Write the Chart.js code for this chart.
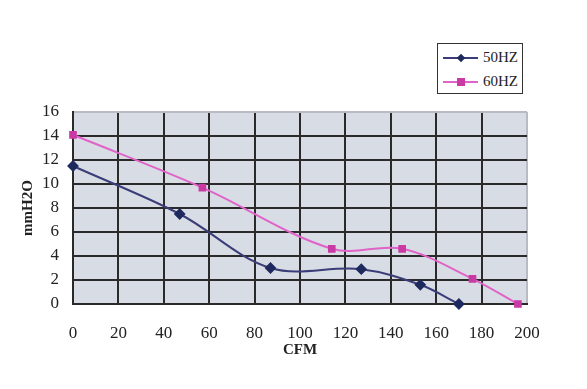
<!DOCTYPE html>
<html>
<head>
<meta charset="utf-8">
<script src="https://cdn.jsdelivr.net/npm/chart.js@4/dist/chart.umd.min.js"></script>
<style>
  html, body { margin: 0; padding: 0; background: #fff; }
  #wrap { position: relative; width: 587px; height: 389px; }
  #legend { position: absolute; left: 437px; top: 43px; width: 84px; height: 49px;
    border: 1.5px solid #333; background: #fff; font-family: "Liberation Serif", serif; font-size: 15px; color: #222; }
  .item { position: absolute; left: 5px; height: 16px; width: 80px; }
  .ln { position: absolute; left: 0; top: 7px; width: 35px; height: 1.5px; }
  .mk { position: absolute; }
  .tx { position: absolute; left: 40px; top: -1px; line-height: 16px; }
</style>
</head>
<body>
<div id="wrap">
  <canvas id="c" width="587" height="389"></canvas>
  <div id="legend"></div>
</div>
<script>
const seriesNames = ["50HZ", "60HZ"];
const flow50 = [0, 47, 87, 127, 153, 170];
const pressure50 = [11.5, 7.5, 3.0, 2.9, 1.6, 0];
const flow60 = [0, 57, 114, 145, 176, 196];
const pressure60 = [14.1, 9.7, 4.6, 4.6, 2.1, 0];
const xTitle = "CFM";
const yTitle = "mmH2O";

const col50 = "#3b3d78", mk50 = "#1e2a5e";
const col60 = "#e064c8", mk60 = "#c93aa4";

const toPts = (xs, ys) => xs.map((x, i) => ({x: x, y: ys[i]}));

const bgPlugin = {
  id: 'plotBg',
  beforeDraw(chart) {
    const {ctx, chartArea: a} = chart;
    ctx.save();
    ctx.fillStyle = '#d8dde5';
    ctx.fillRect(a.left, a.top, a.right - a.left, a.bottom - a.top);
    ctx.restore();
  }
};

const tickFont = {family: "Liberation Serif", size: 17};
const titleFont = {family: "Liberation Serif", size: 15, weight: 'bold'};

new Chart(document.getElementById('c'), {
  type: 'line',
  data: {
    datasets: [
      { label: seriesNames[0], data: toPts(flow50, pressure50), borderColor: col50, backgroundColor: mk50,
        pointBackgroundColor: mk50, pointBorderColor: mk50, pointStyle: 'rectRot', pointRadius: 4.5,
        borderWidth: 2, tension: 0.35, clip: false, fill: false },
      { label: seriesNames[1], data: toPts(flow60, pressure60), borderColor: col60, backgroundColor: mk60,
        pointBackgroundColor: mk60, pointBorderColor: mk60, pointStyle: 'rect', pointRadius: 4,
        borderWidth: 2, tension: 0.35, clip: false, fill: false }
    ]
  },
  options: {
    responsive: false,
    animation: false,
    layout: { padding: { top: 112, right: 60, bottom: 0, left: 0 } },
    plugins: { legend: { display: false }, tooltip: { enabled: false } },
    scales: {
      x: {
        type: 'linear', min: 0, max: 200,
        ticks: { stepSize: 20, font: tickFont, color: '#222', padding: 19, maxRotation: 0 },
        grid: { color: c => c.tick && c.tick.value === 200 ? '#b8bcc2' : '#2a2a2a', lineWidth: 2, drawTicks: false },
        border: { display: true, color: '#2a2a2a', width: 2 },
        title: { display: true, text: xTitle, font: titleFont, color: '#222', padding: { top: 0, bottom: 30 } },
        afterFit: s => { s.height = 85; }
      },
      y: {
        min: 0, max: 16,
        ticks: { stepSize: 2, font: tickFont, color: '#222', padding: 14 },
        grid: { color: c => c.tick && c.tick.value === 16 ? '#b8bcc2' : '#2a2a2a', lineWidth: 2, drawTicks: false },
        border: { display: true, color: '#2a2a2a', width: 2 },
        title: { display: true, text: yTitle, font: titleFont, color: '#222', padding: { top: 19, bottom: 0 } },
        afterFit: s => { s.width = 73; }
      }
    }
  },
  plugins: [bgPlugin]
});

// HTML legend
const legend = document.getElementById('legend');
const specs = [
  { name: seriesNames[0], line: col50, mk: mk50, shape: 'diamond' },
  { name: seriesNames[1], line: col60, mk: mk60, shape: 'square' }
];
specs.forEach((s, i) => {
  const it = document.createElement('div');
  it.className = 'item';
  it.style.top = (6 + i * 24) + 'px';
  const ln = document.createElement('div'); ln.className = 'ln'; ln.style.background = s.line;
  const mk = document.createElement('div'); mk.className = 'mk'; mk.style.background = s.mk;
  if (s.shape === 'diamond') {
    mk.style.width = '6px'; mk.style.height = '6px'; mk.style.left = '15px'; mk.style.top = '5px';
    mk.style.transform = 'rotate(45deg)';
  } else {
    mk.style.width = '8px'; mk.style.height = '8px'; mk.style.left = '14px'; mk.style.top = '4px';
  }
  const tx = document.createElement('span'); tx.className = 'tx'; tx.textContent = s.name;
  it.appendChild(ln); it.appendChild(mk); it.appendChild(tx);
  legend.appendChild(it);
});
</script>
</body>
</html>
